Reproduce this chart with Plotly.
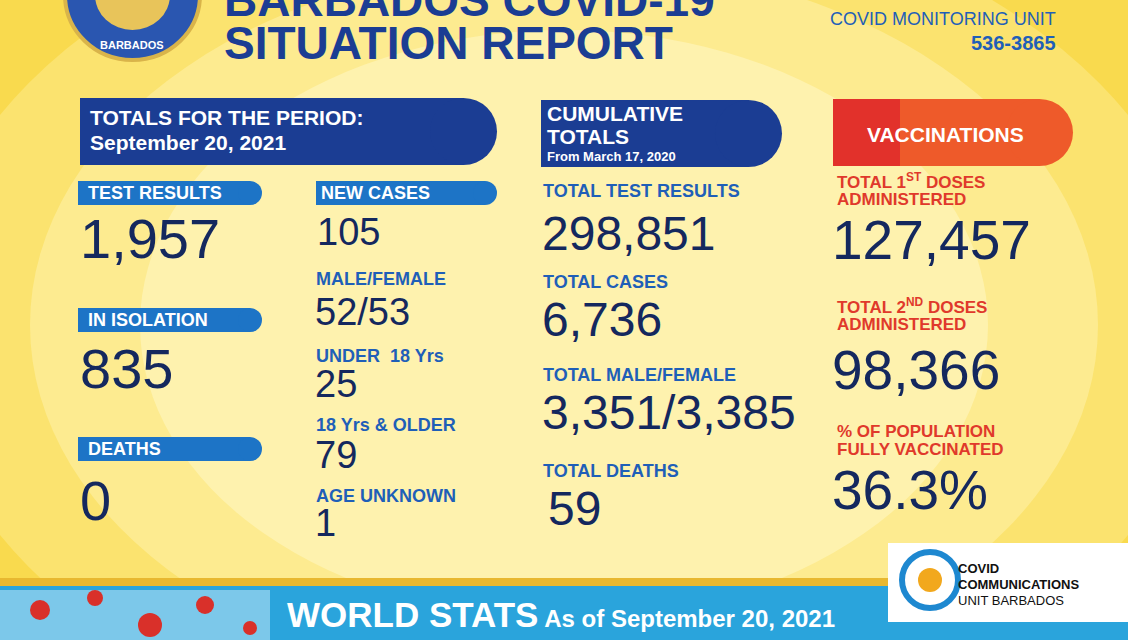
import plotly.graph_objects as go

# Report values
period_date = "September 20, 2021"
left_labels = ["TEST RESULTS", "IN ISOLATION", "DEATHS"]
left_values = ["1,957", "835", "0"]
new_labels = ["NEW CASES", "MALE/FEMALE", "UNDER  18 Yrs", "18 Yrs & OLDER", "AGE UNKNOWN"]
new_values = ["105", "52/53", "25", "79", "1"]
cum_labels = ["TOTAL TEST RESULTS", "TOTAL CASES", "TOTAL MALE/FEMALE", "TOTAL DEATHS"]
cum_values = ["298,851", "6,736", "3,351/3,385", "59"]
vac_labels = [("TOTAL 1<sup>ST</sup> DOSES", "ADMINISTERED"), ("TOTAL 2<sup>ND</sup> DOSES", "ADMINISTERED"),
              ("% OF POPULATION", "FULLY VACCINATED")]
vac_values = ["127,457", "98,366", "36.3%"]

FONT = "Arial, Liberation Sans, sans-serif"
DARK = "#14285e"
BLUE = "#1f5fb8"
NAVY = "#1b3d93"
RED = "#e0392b"

fig = go.Figure()
shapes = []
ann = []

def rect(x0, y0, x1, y1, color, **kw):
    shapes.append(dict(type="rect", x0=x0, y0=y0, x1=x1, y1=y1, fillcolor=color,
                       line=dict(width=0), layer="below", **kw))

def text(x, y, s, size, color, bold=False, anchor="left"):
    ann.append(dict(x=x, y=y, text=f"<b>{s}</b>" if bold else s, showarrow=False,
                    xanchor=anchor, yanchor="middle",
                    font=dict(family=FONT, size=size, color=color)))

# background gradient approximation
bgs = ["#f7cf2c", "#f9da4e", "#fbe36f", "#fdeb90", "#fef2ae"]
for i, c in enumerate(bgs):
    shapes.append(dict(type="circle", x0=-300 + i * 110, y0=-250 + i * 70,
                       x1=1428 - i * 110, y1=900 - i * 70, fillcolor=c,
                       line=dict(width=0), layer="below"))

def banner(x0, y0, x1, y1, color):
    r = (y1 - y0) / 2
    rect(x0, y0, x1 - r, y1, color)
    shapes.append(dict(type="circle", x0=x1 - 2 * r, y0=y0, x1=x1, y1=y1,
                       fillcolor=color, line=dict(width=0), layer="below"))

# header
shapes.append(dict(type="circle", x0=65, y0=-70, x1=200, y1=60, fillcolor="#2a56b0",
                   line=dict(color="#d9b44a", width=4), layer="below"))
shapes.append(dict(type="circle", x0=95, y0=-40, x1=170, y1=30, fillcolor="#e8c45a",
                   line=dict(width=0), layer="below"))
text(132, 45, "BARBADOS", 11, "white", True, "center")
text(222, 0, "BARBADOS COVID-19", 46, NAVY, True)
text(222, 43, "SITUATION REPORT", 46, NAVY, True)
text(1058, 19, "COVID MONITORING UNIT", 18, BLUE, False, "right")
text(1058, 43, "536-3865", 20, BLUE, True, "right")

# banners
banner(80, 98, 497, 165, NAVY)
text(88, 117, "TOTALS FOR THE PERIOD:", 21, "white", True)
text(88, 142, period_date, 21, "white", True)
banner(541, 100, 782, 167, NAVY)
text(545, 113, "CUMULATIVE", 21, "white", True)
text(545, 136, "TOTALS", 21, "white", True)
text(545, 156, "From March 17, 2020", 13, "white", True)
banner(833, 99, 1073, 166, "#ee5a2a")
rect(833, 99, 900, 166, "#e2312b")
text(945, 134, "VACCINATIONS", 21, "white", True, "center")

# left column
left_bar_y = [193, 320, 449]
left_val_y = [238, 368, 500]
for lab, val, by, vy in zip(left_labels, left_values, left_bar_y, left_val_y):
    banner(78, by - 12, 262, by + 12, "#1d74c6")
    text(86, by, lab, 18, "white", True)
    text(78, vy, val, 56, DARK)

# new cases column
banner(316, 181, 497, 205, "#1d74c6")
text(319, 193, new_labels[0], 18, "white", True)
text(315, 232, new_values[0], 38, DARK)
sub_lab_y = [279, 356, 425, 496]
sub_val_y = [312, 384, 455, 523]
for lab, val, ly, vy in zip(new_labels[1:], new_values[1:], sub_lab_y, sub_val_y):
    text(314, ly, lab, 18, BLUE, True)
    text(313, vy, val, 38, DARK)

# cumulative column
cum_lab_y = [191, 282, 375, 471]
cum_val_y = [233, 319, 412, 508]
for i, (lab, val, ly, vy) in enumerate(zip(cum_labels, cum_values, cum_lab_y, cum_val_y)):
    text(541, ly, lab, 18, BLUE, True)
    text(546 if i == 3 else 540, vy, val, 48, DARK)

# vaccinations column
vac_lab_y = [181, 306, 431]
vac_val_y = [240, 370, 490]
for (l1, l2), val, ly, vy in zip(vac_labels, vac_values, vac_lab_y, vac_val_y):
    text(835, ly, l1, 17, RED, True)
    text(835, ly + 18, l2, 17, RED, True)
    text(830, vy, val, 55, DARK)

# bottom band
rect(0, 578, 1128, 640, "#2aa4dc")
rect(0, 578, 1128, 586, "#e8b830")
rect(0, 590, 270, 640, "#7cc8ea")
for cx, cy, r in [(40, 610, 10), (95, 598, 8), (150, 625, 12), (205, 605, 9), (250, 628, 7)]:
    shapes.append(dict(type="circle", x0=cx - r, y0=cy - r, x1=cx + r, y1=cy + r,
                       fillcolor="#d9302a", line=dict(width=0), layer="below"))
ann.append(dict(x=285, y=614, xanchor="left", yanchor="middle", showarrow=False,
                text="<b><span style='font-size:35px'>WORLD STATS</span> As of September 20, 2021</b>",
                font=dict(family=FONT, size=24, color="white")))

# comms unit logo box
shapes.append(dict(type="rect", x0=888, y0=543, x1=1140, y1=622, fillcolor="white",
                   line=dict(width=0), layer="below"))
shapes.append(dict(type="circle", x0=902, y0=552, x1=958, y1=608, fillcolor="white",
                   line=dict(color="#1e88d0", width=6), layer="below"))
shapes.append(dict(type="circle", x0=918, y0=568, x1=942, y1=592, fillcolor="#f2a81d",
                   line=dict(width=0), layer="below"))
text(956, 568, "COVID", 13, "#111111", True)
text(956, 584, "COMMUNICATIONS", 13, "#111111", True)
text(956, 600, "UNIT BARBADOS", 13, "#111111")

fig.update_layout(
    width=1128, height=640,
    margin=dict(l=0, r=0, t=0, b=0),
    paper_bgcolor="#f9d84a", plot_bgcolor="rgba(0,0,0,0)",
    xaxis=dict(range=[0, 1128], visible=False, fixedrange=True),
    yaxis=dict(range=[640, 0], visible=False, fixedrange=True),
    shapes=shapes, annotations=ann, showlegend=False,
)

fig.write_html("out.html", config={"displayModeBar": False},
               post_script="document.body.style.margin='0';")
